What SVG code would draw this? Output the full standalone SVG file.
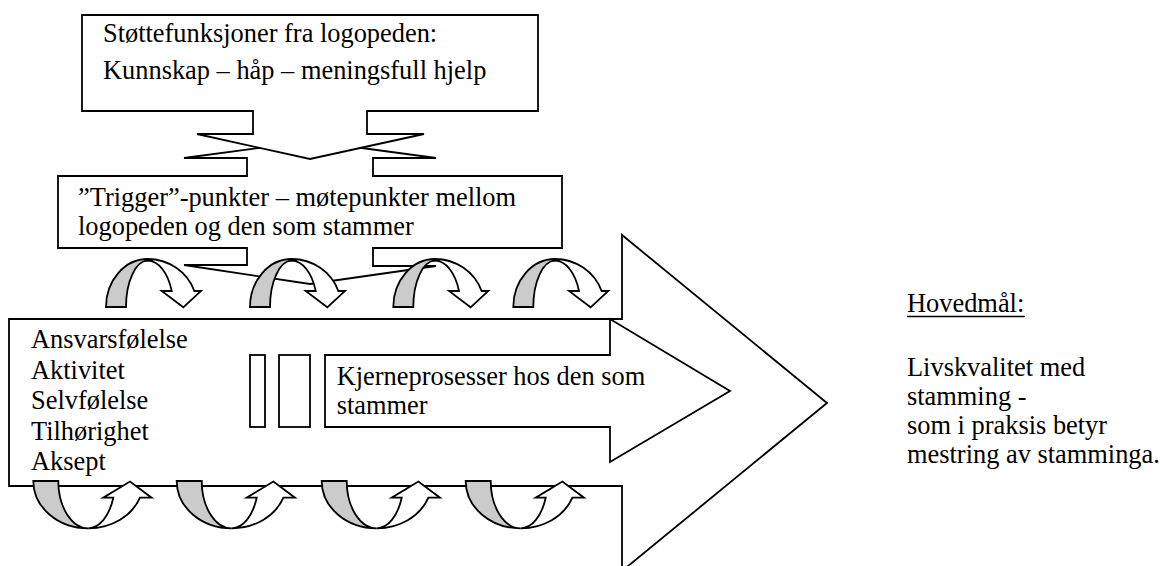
<svg xmlns="http://www.w3.org/2000/svg" width="1162" height="566" viewBox="0 0 1162 566">
<style>
.shape{fill:#fff;stroke:#000;stroke-width:1.8;stroke-linejoin:miter}
.back{fill:#cbcbcb;stroke:#000;stroke-width:1.8;stroke-linejoin:miter}
.rule{stroke:#000;stroke-width:1.6}
text{font-family:"Liberation Serif","Times New Roman",serif;font-size:26.4px;fill:#000}
</style>
<defs>
  <!-- ribbon arrow curving over the top and pointing down; shaded back half -->
  <g id="curvedDown">
    <path class="back" d="M0,48 A41.7,48 0 0 1 41.7,0 L41.7,1.7 A21.7,46.3 0 0 0 20,48 Z"/>
    <path class="shape" d="M41.7,0 A49.4,48 0 0 1 88.3,32 L95,32 L77.3,48.3 L55.7,32 L65.7,32 A25.6,46.3 0 0 0 41.7,1.7 Z"/>
  </g>
  <!-- ribbon arrow curving under and pointing up; shaded back half -->
  <g id="curvedUp">
    <path class="back" d="M0,0 A55,47.3 0 0 0 55,47.3 A30,47.3 0 0 1 25,0 Z"/>
    <path class="shape" d="M55,47.3 A55,47.3 0 0 0 106.7,16.7 L118.3,16.7 L96.7,0.5 L70,16.7 L80,16.7 A26.7,47.3 0 0 1 55,47.3 Z"/>
  </g>
</defs>

<!-- large block arrow holding the core qualities -->
<g id="main-arrow">
  <path class="shape" d="M9,319 H622 V235 L827,403 L622,571 V486 H9 Z"/>
  <text x="31" y="348">Ansvarsfølelse</text>
  <text x="31" y="378.6">Aktivitet</text>
  <text x="31" y="409.2">Selvfølelse</text>
  <text x="31" y="439.8">Tilhørighet</text>
  <text x="31" y="470.4">Aksept</text>
</g>

<!-- inner arrow: core processes -->
<g id="core-processes">
  <rect class="shape" x="250" y="355" width="15" height="72"/>
  <rect class="shape" x="279" y="355" width="31" height="72"/>
  <path class="shape" d="M325,355 H610 V319 L730,391 L610,462 V427 H325 Z"/>
  <text x="336.7" y="384.5">Kjerneprosesser hos den som</text>
  <text x="336.7" y="413.5">stammer</text>
</g>

<!-- trigger points box with arrows up and down -->
<g id="trigger-points">
  <path class="shape" d="M58,176 H247 V158 H184 L310,141 L436,158 H373 V176 H562 V248 H373 V266 H436 L310,284 L184,265 H247 V248 H58 Z"/>
  <text x="78" y="206">”Trigger”-punkter – møtepunkter mellom</text>
  <text x="78" y="235">logopeden og den som stammer</text>
</g>

<!-- support functions box with arrow down -->
<g id="support-functions">
  <path class="shape" d="M82,15 H538 V111 H367 V134 H424 L310,159 L197,134 H253 V111 H82 Z"/>
  <text x="103" y="42">Støttefunksjoner fra logopeden:</text>
  <text x="103" y="79">Kunnskap – håp – meningsfull hjelp</text>
</g>

<!-- cyclic ribbon arrows above and below the main arrow -->
<g id="connectors">
  <use href="#curvedDown" transform="translate(106,259)"/>
  <use href="#curvedDown" transform="translate(250,259)"/>
  <use href="#curvedDown" transform="translate(393.3,259)"/>
  <use href="#curvedDown" transform="translate(513.3,259)"/>
  <use href="#curvedUp" transform="translate(33.3,481)"/>
  <use href="#curvedUp" transform="translate(176.7,481)"/>
  <use href="#curvedUp" transform="translate(321.7,481)"/>
  <use href="#curvedUp" transform="translate(465.7,481)"/>
</g>

<!-- main goal -->
<g id="main-goal">
  <text x="907" y="312">Hovedmål:</text>
  <line class="rule" x1="907" y1="316.5" x2="1025" y2="316.5"/>
  <text x="907" y="376">Livskvalitet med</text>
  <text x="907" y="404.5">stamming -</text>
  <text x="907" y="434">som i praksis betyr</text>
  <text x="907" y="463">mestring av stamminga.</text>
</g>
</svg>
